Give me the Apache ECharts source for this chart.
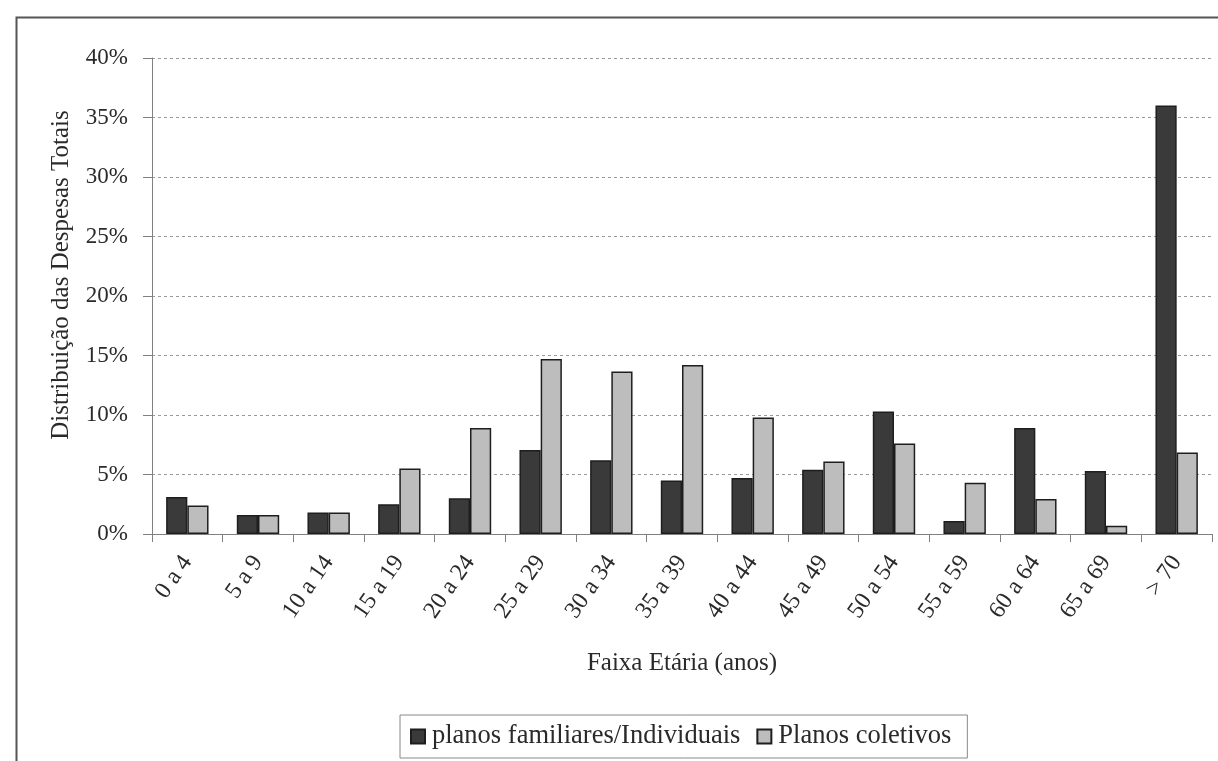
<!DOCTYPE html>
<html>
<head>
<meta charset="utf-8">
<script src="https://cdn.jsdelivr.net/npm/echarts@6/dist/echarts.min.js"></script>
<style>
  html, body { margin: 0; padding: 0; background: #fff; }
  #chart { width: 1218px; height: 761px; }
</style>
</head>
<body>
<div id="chart"></div>
<script>
// Age bands (years)
const faixas = ['0 a 4', '5 a 9', '10 a 14', '15 a 19', '20 a 24', '25 a 29', '30 a 34',
  '35 a 39', '40 a 44', '45 a 49', '50 a 54', '55 a 59', '60 a 64', '65 a 69', '> 70'];

// Share of total expenses per age band (%)
const planosFamiliares = [3.1, 1.6, 1.8, 2.5, 3.0, 7.05, 6.2, 4.5, 4.7, 5.4, 10.3, 1.1, 8.9, 5.3, 36.0];
const planosColetivos = [2.4, 1.6, 1.8, 5.5, 8.9, 14.7, 13.65, 14.2, 9.8, 6.1, 7.6, 4.3, 2.95, 0.7, 6.85];

const serieNames = ['planos familiares/Individuais', 'Planos coletivos'];
const yTicks = [0, 5, 10, 15, 20, 25, 30, 35, 40];

const serif = '"Liberation Serif", "Times New Roman", serif';
const textColor = '#2a2a2a';

const chart = echarts.init(document.getElementById('chart'), null, { renderer: 'canvas' });

chart.setOption({
  backgroundColor: '#fff',
  animation: false,
  textStyle: { fontFamily: serif, color: textColor },
  graphic: [{
    type: 'rect',
    left: 14, top: 15,
    shape: { width: 1300, height: 900 },
    style: { fill: 'none', stroke: '#555', lineWidth: 2 },
    silent: true
  }],
  grid: { left: 152, right: 6, top: 58, bottom: 227, containLabel: false },
  legend: {
    data: serieNames,
    bottom: 3,
    left: 400,
    icon: 'rect',
    itemWidth: 14,
    itemHeight: 14,
    itemGap: 16,
    padding: [8, 16, 8, 10],
    borderColor: '#888',
    borderWidth: 1,
    textStyle: { fontFamily: serif, fontSize: 26.5, color: textColor, padding: [0, 0, 0, 2] }
  },
  xAxis: {
    type: 'category',
    data: faixas,
    name: 'Faixa Etária (anos)',
    nameLocation: 'middle',
    nameGap: 117,
    nameTextStyle: { fontFamily: serif, fontSize: 25, color: textColor },
    axisLine: { lineStyle: { color: '#808080', width: 1 } },
    axisTick: { show: true, alignWithLabel: false, length: 8, lineStyle: { color: '#808080' } },
    axisLabel: {
      rotate: 55,
      margin: 24,
      fontFamily: serif,
      fontSize: 24,
      color: textColor,
      interval: 0
    }
  },
  yAxis: {
    type: 'value',
    min: yTicks[0],
    max: yTicks[yTicks.length - 1],
    interval: 5,
    name: 'Distribuição das Despesas Totais',
    nameLocation: 'middle',
    nameGap: 78,
    nameRotate: 90,
    nameTextStyle: { fontFamily: serif, fontSize: 25, color: textColor, padding: [0, 0, 0, 42] },
    axisLine: { show: true, lineStyle: { color: '#808080', width: 1 } },
    axisTick: { show: true, length: 9, lineStyle: { color: '#808080' } },
    axisLabel: {
      fontFamily: serif,
      fontSize: 23,
      color: textColor,
      margin: 24,
      formatter: v => v + '%'
    },
    splitLine: { show: true, lineStyle: { color: '#9a9a9a', type: [3, 3], width: 1 } }
  },
  series: [
    {
      name: serieNames[0],
      type: 'bar',
      data: planosFamiliares,
      barGap: '0%',
      barCategoryGap: '40%',
      itemStyle: { color: '#3a3a3a', borderColor: '#1e1e1e', borderWidth: 1.5 }
    },
    {
      name: serieNames[1],
      type: 'bar',
      data: planosColetivos,
      barGap: '0%',
      barCategoryGap: '40%',
      itemStyle: { color: '#bdbdbd', borderColor: '#1e1e1e', borderWidth: 1.5 }
    }
  ]
});
</script>
</body>
</html>
